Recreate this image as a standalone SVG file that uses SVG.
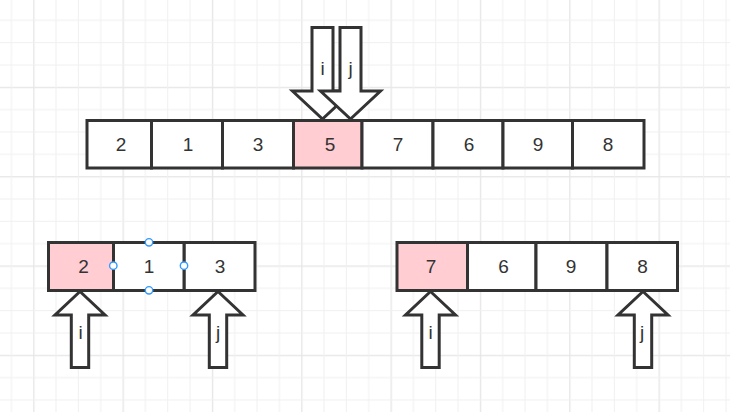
<svg xmlns="http://www.w3.org/2000/svg" width="730" height="412" viewBox="0 0 730 412">
<style>
.cell{fill:#ffffff;stroke:#333333;stroke-width:3}
.hl{fill:#ffcdd2}
.arrow{fill:#ffffff;stroke:#333333;stroke-width:3;stroke-linejoin:miter}
.t{font-family:"Liberation Sans","Noto Sans",Arial,sans-serif;font-size:19px;fill:#333333;text-anchor:middle}
.h{fill:#ffffff;stroke:#3399ff;stroke-width:1.4}
</style>
<defs>
<pattern id="grid" patternUnits="userSpaceOnUse" x="33.2" y="86.8" width="89.33" height="89.33">
<rect x="0" y="0" width="1.3" height="89.33" fill="#e6e6e6"/>
<rect x="0" y="0" width="89.33" height="1.3" fill="#e6e6e6"/>
<rect x="22.33" y="0" width="1" height="89.33" fill="#f0f0f0"/>
<rect x="44.67" y="0" width="1" height="89.33" fill="#f0f0f0"/>
<rect x="67" y="0" width="1" height="89.33" fill="#f0f0f0"/>
<rect x="0" y="22.33" width="89.33" height="1" fill="#f0f0f0"/>
<rect x="0" y="44.67" width="89.33" height="1" fill="#f0f0f0"/>
<rect x="0" y="67" width="89.33" height="1" fill="#f0f0f0"/>
</pattern>
</defs>
<rect width="730" height="412" fill="#ffffff"/>
<rect width="730" height="412" fill="url(#grid)"/>

<g id="connectors"></g>

<!-- top row -->
<g id="top-2"><rect class="cell" x="87" y="120.5" width="64.5" height="47.5"/><text class="t" x="121" y="151">2</text></g>
<g id="top-1"><rect class="cell" x="151.5" y="120.5" width="71" height="47.5"/><text class="t" x="188" y="151">1</text></g>
<g id="top-3"><rect class="cell" x="222.5" y="120.5" width="71" height="47.5"/><text class="t" x="258" y="151">3</text></g>
<g id="top-5"><rect class="cell hl" x="293.5" y="120.5" width="68.5" height="47.5"/><text class="t" x="330" y="151">5</text></g>
<g id="top-7"><rect class="cell" x="362" y="120.5" width="71" height="47.5"/><text class="t" x="398" y="151">7</text></g>
<g id="top-6"><rect class="cell" x="433" y="120.5" width="70" height="47.5"/><text class="t" x="469" y="151">6</text></g>
<g id="top-9"><rect class="cell" x="503" y="120.5" width="69.5" height="47.5"/><text class="t" x="538" y="151">9</text></g>
<g id="top-8"><rect class="cell" x="572.5" y="120.5" width="71.5" height="47.5"/><text class="t" x="608" y="151">8</text></g>

<g id="top-arrow-i"><polygon class="arrow" points="312,27.5 333,27.5 333,91 352.5,91 322.5,119 292.5,91 312,91"/><text class="t" x="322.5" y="75">i</text></g>
<g id="top-arrow-j"><polygon class="arrow" points="340,27.5 361,27.5 361,91 380.5,91 350.5,119 320.5,91 340,91"/><text class="t" x="350.5" y="75">j</text></g>

<!-- bottom left row -->
<g id="left-2"><rect class="cell hl" x="48.5" y="242.5" width="65" height="48"/><text class="t" x="83.5" y="272.5">2</text></g>
<g id="left-3"><rect class="cell" x="184" y="242.5" width="71" height="48"/><text class="t" x="220" y="272.5">3</text></g>
<g id="left-1"><rect class="cell" x="113.5" y="242.5" width="70.5" height="48"/><text class="t" x="149" y="272.5">1</text>
<circle class="h" cx="149" cy="242.3" r="3.7"/><circle class="h" cx="113.3" cy="265.7" r="3.7"/><circle class="h" cx="184" cy="265.7" r="3.7"/><circle class="h" cx="149" cy="290.3" r="3.7"/></g>

<g id="left-arrow-i"><polygon class="arrow" points="80,291.5 105,315 88.7,315 88.7,367.5 71.3,367.5 71.3,315 55,315"/><text class="t" x="80.5" y="339">i</text></g>
<g id="left-arrow-j"><polygon class="arrow" points="218,291.5 243,315 226.7,315 226.7,367.5 209.3,367.5 209.3,315 193,315"/><text class="t" x="218" y="339">j</text></g>

<!-- bottom right row -->
<g id="right-7"><rect class="cell hl" x="397" y="242.5" width="70.5" height="48"/><text class="t" x="431" y="272.5">7</text></g>
<g id="right-6"><rect class="cell" x="467.5" y="242.5" width="68.5" height="48"/><text class="t" x="503.5" y="272.5">6</text></g>
<g id="right-9"><rect class="cell" x="536" y="242.5" width="71" height="48"/><text class="t" x="571" y="272.5">9</text></g>
<g id="right-8"><rect class="cell" x="607" y="242.5" width="70.5" height="48"/><text class="t" x="642.5" y="272.5">8</text></g>

<g id="right-arrow-i"><polygon class="arrow" points="430.5,291.5 455.5,315 439.2,315 439.2,367.5 421.8,367.5 421.8,315 405.5,315"/><text class="t" x="430.5" y="339">i</text></g>
<g id="right-arrow-j"><polygon class="arrow" points="643,291.5 668,315 651.7,315 651.7,367.5 634.3,367.5 634.3,315 618,315"/><text class="t" x="642" y="339">j</text></g>
</svg>
